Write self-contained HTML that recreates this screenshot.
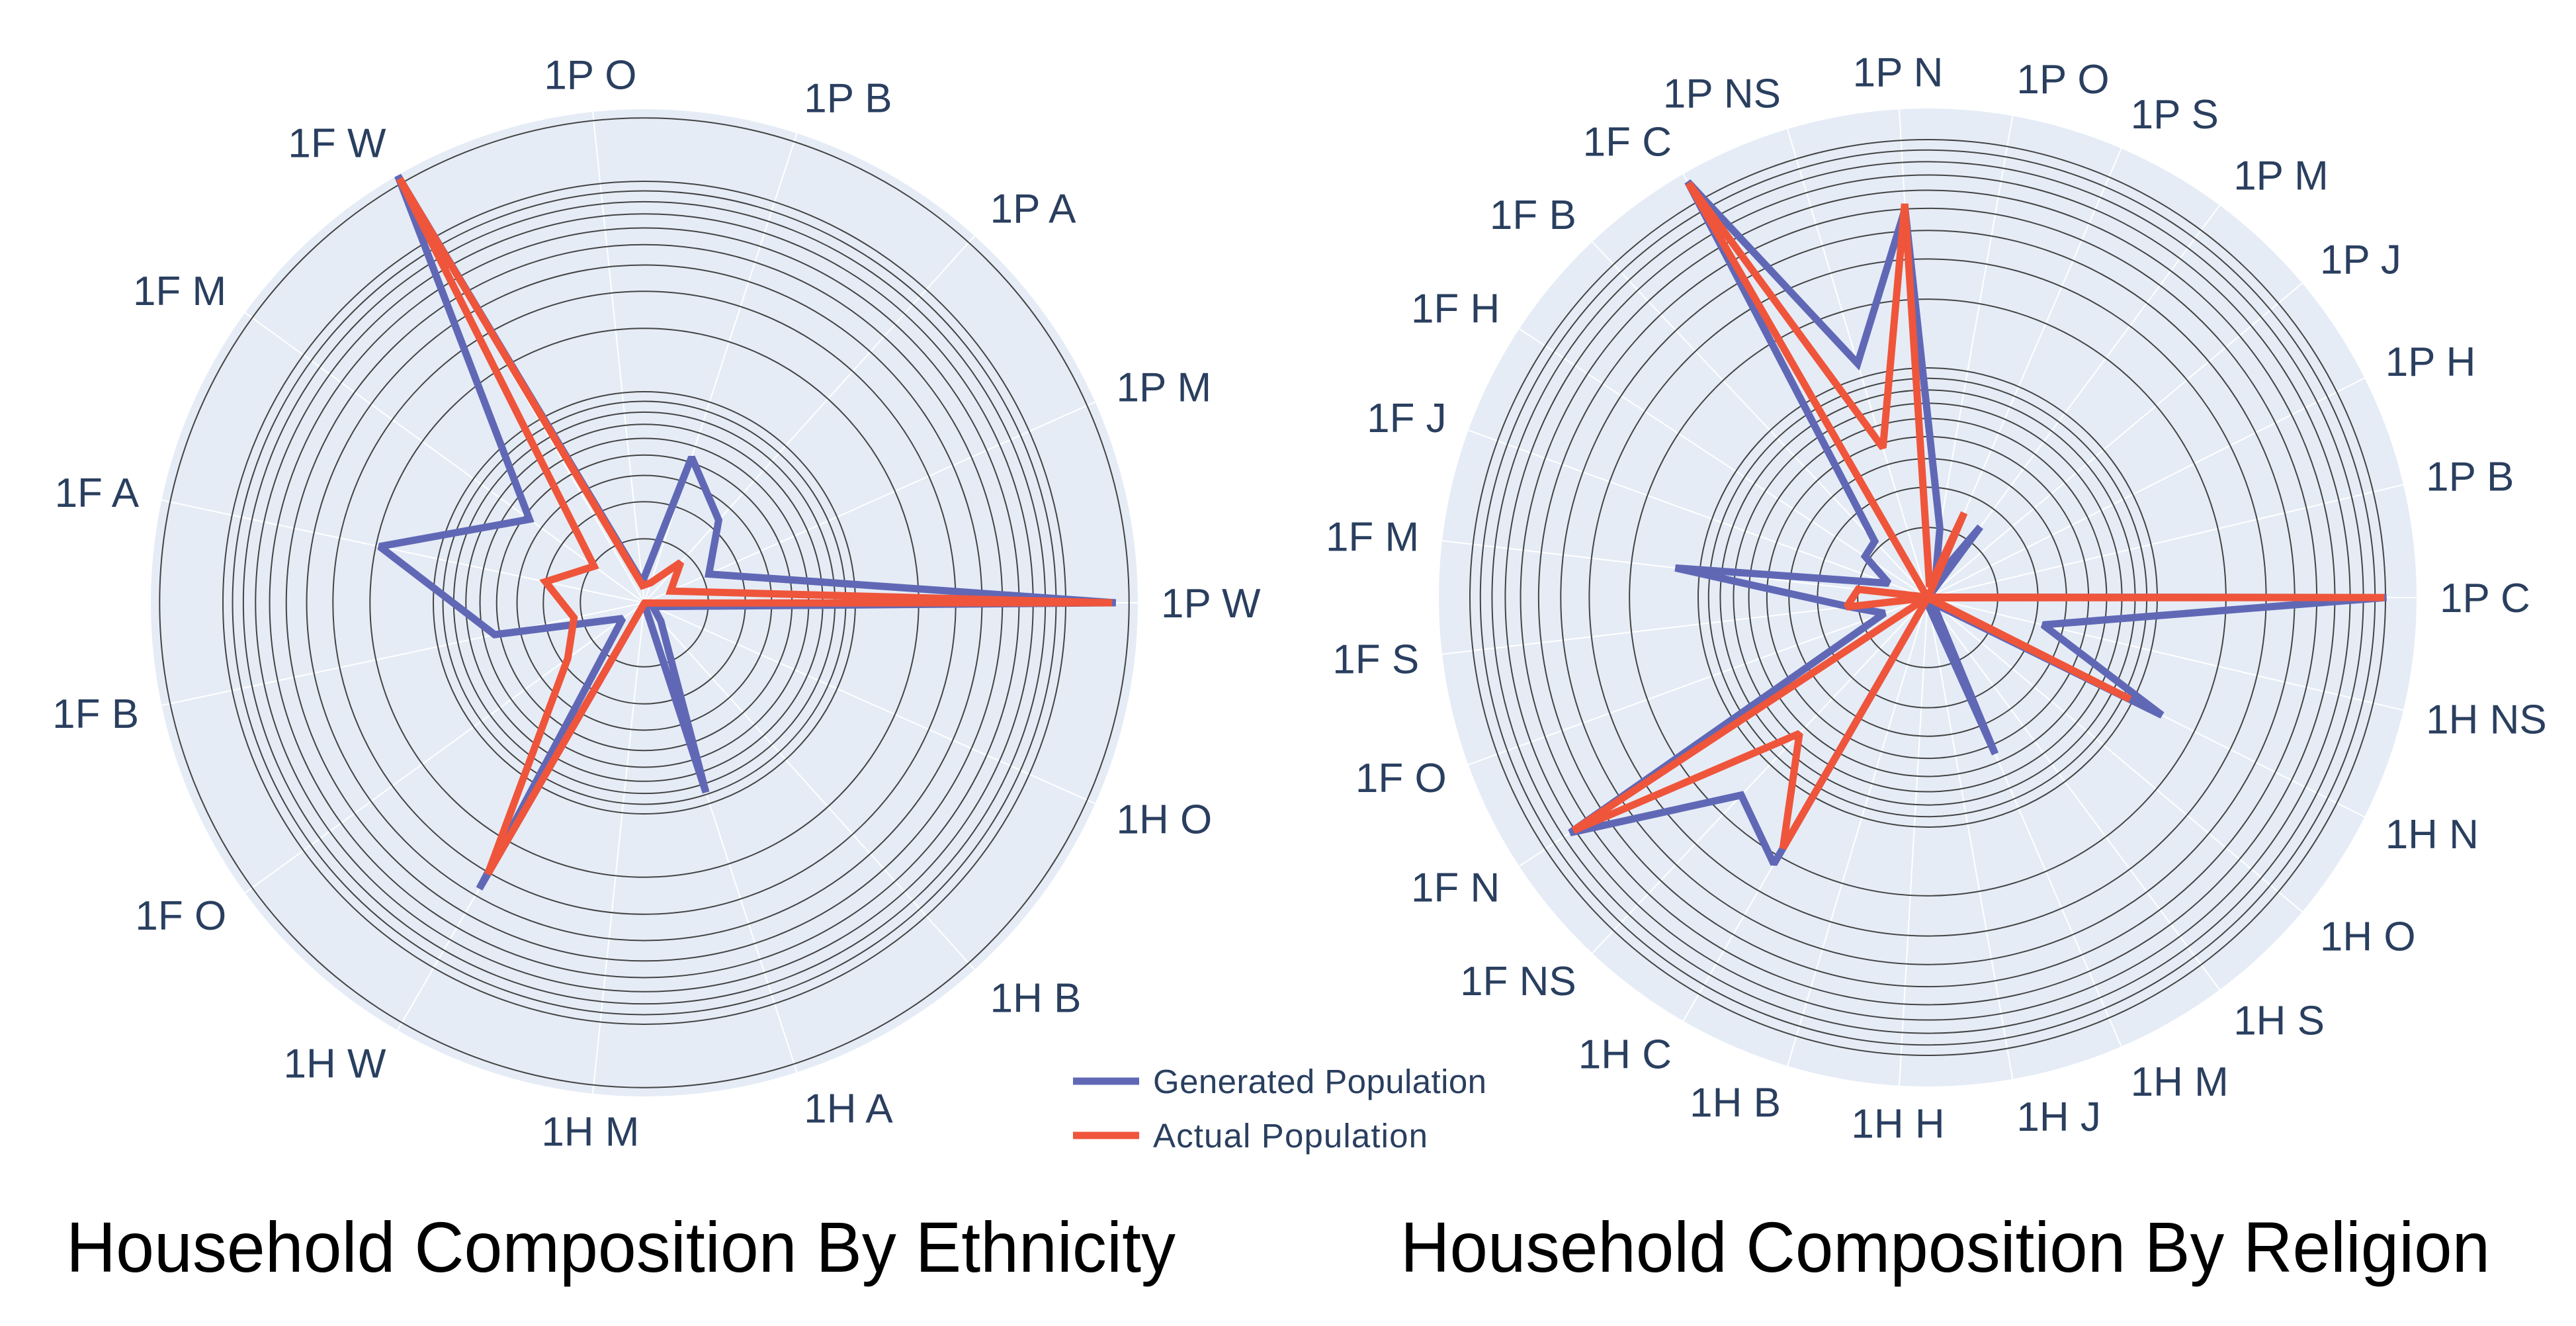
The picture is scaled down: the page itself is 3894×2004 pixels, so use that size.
<!DOCTYPE html>
<html><head><meta charset="utf-8"><style>
html,body{margin:0;padding:0;background:#fff;}
svg{display:block;}
text{font-family:"Liberation Sans",sans-serif;}
</style></head><body>
<svg id="fig" width="3894" height="2004" viewBox="0 0 3894 2004" xmlns="http://www.w3.org/2000/svg">
<g id="left"></g>
<g id="right"></g>
<g>
  <line x1="1622" y1="1634" x2="1722" y2="1634" stroke="#6068b6" stroke-width="11"/>
  <text x="1743" y="1652" font-size="51" fill="#2a3f5f" textLength="504">Generated Population</text>
  <line x1="1622" y1="1716" x2="1722" y2="1716" stroke="#ef553b" stroke-width="11"/>
  <text x="1743" y="1734" font-size="51" fill="#2a3f5f" textLength="415">Actual Population</text>
</g>
<text x="100" y="1922" font-size="108" fill="#000" textLength="1677" lengthAdjust="spacingAndGlyphs">Household Composition By Ethnicity</text>
<text x="2117" y="1922" font-size="108" fill="#000" textLength="1647" lengthAdjust="spacingAndGlyphs">Household Composition By Religion</text>
</svg>
<script>
const ethCategories = ["1P W","1P M","1P A","1P B","1P O","1F W","1F M","1F A","1F B","1F O","1H W","1H M","1H A","1H B","1H O"];
const ethGenerated = [173,2.15,3.35,5.3,1.24,219,4.7,19.2,5.3,1.33,36.8,1.0,8.8,1.3,1.1];
const ethActual = [166,1.36,1.8,1.25,1.2,211,1.96,3.0,2.18,2.8,30.6,1.0,1.0,1.0,1.0];
const relCategories = ["1P C","1P B","1P H","1P J","1P M","1P S","1P O","1P N","1P NS","1F C","1F B","1F H","1F J","1F M","1F S","1F O","1F N","1F NS","1H C","1H B","1H H","1H J","1H M","1H S","1H O","1H N","1H NS"];
const relGenerated = [101,1.0,1.0,1.0,2.4,1.2,2.0,50,11.6,125,2.15,2.1,1.5,12.8,2.2,1.57,74,15.3,22,1.0,1.0,1.1,5.5,1.1,1.1,13.9,3.26];
const relActual = [99,1.0,1.0,1.0,1.0,2.5,1.1,52.7,4.77,123,1.0,1.0,1.0,2.0,2.25,1.0,71,6.5,18.3,1.0,1.0,1.0,1.0,1.0,1.0,9.7,1.0];
const gridTicks = [2,3,4,5,6,7,8,9,10,20,30,40,50,60,70,80,90,100,200];

const NS="http://www.w3.org/2000/svg";
function mk(tag,attrs,parent){const e=document.createElementNS(NS,tag);for(const k in attrs)e.setAttribute(k,attrs[k]);parent.appendChild(e);return e;}

function drawPolar(g,cx,cy,R,k,b,maxV,cats,gen,act,prefix){
  const rr=v=>Math.max(0,b+k*Math.log10(Math.max(v,1)));
  const bg=mk('circle',{cx:cx,cy:cy,r:R,fill:'#e5ecf6'},g);
  
  
  const n=cats.length;
  for(let i=0;i<n;i++){
    const a=i*2*Math.PI/n;
    const sp=mk('line',{x1:cx,y1:cy,x2:cx+R*Math.cos(a),y2:cy-R*Math.sin(a),stroke:'#fff','stroke-width':2},g);
    
    
  }
  gridTicks.forEach(t=>{
    if(t>maxV) return;
    const c=mk('circle',{cx:cx,cy:cy,r:rr(t),fill:'none',stroke:'#444','stroke-width':2},g);
    
    
  });
  function series(vals,color,name){
    const pts=vals.map((v,i)=>{const a=i*2*Math.PI/n;const r=rr(v);return (cx+r*Math.cos(a)).toFixed(1)+','+(cy-r*Math.sin(a)).toFixed(1);});
    const p=mk('polygon',{points:pts.join(' '),fill:'none',stroke:color,'stroke-width':11,'stroke-linejoin':'miter','stroke-miterlimit':2},g);
    
    
  }
  series(gen,'#6068b6',prefix+'-generated-line');
  series(act,'#ef553b',prefix+'-actual-line');
  for(let i=0;i<n;i++){
    const a=i*2*Math.PI/n;const c=Math.cos(a),s=Math.sin(a);
    const lr=R+35;
    const x=cx+lr*c,y=cy-lr*s;
    const anchor=c>0.15?'start':(c<-0.15?'end':'middle');
    const t=mk('text',{x:x.toFixed(1),y:(y+22-s*22).toFixed(1),'font-size':62,fill:'#2a3f5f','text-anchor':anchor},g);
    t.textContent=cats[i];
    
    
  }
}
drawPolar(document.getElementById('left'),974,911,746,318,1,250,ethCategories,ethGenerated,ethActual,'ethnicity');
drawPolar(document.getElementById('right'),2914,903,739,345,2,150,relCategories,relGenerated,relActual,'religion');
</script>
</body></html>
